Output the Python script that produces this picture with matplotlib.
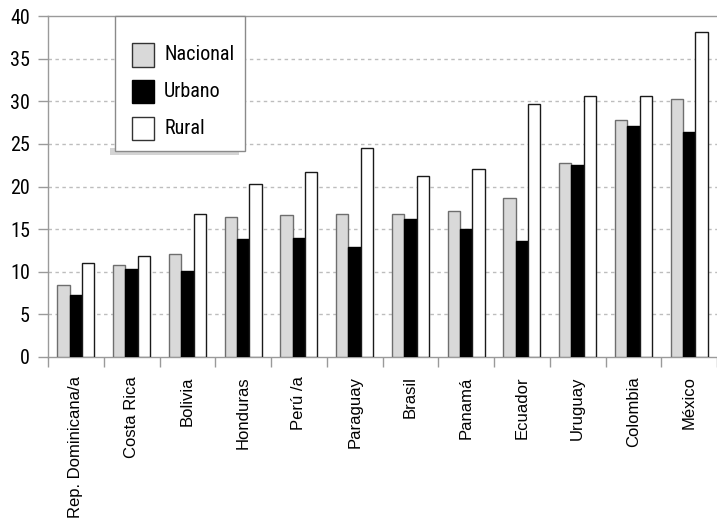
import matplotlib
matplotlib.use("Agg")
import matplotlib.pyplot as plt
from matplotlib.patches import Rectangle
import numpy as np

# Data
paises = ["Rep. Dominicana/a", "Costa Rica", "Bolivia", "Honduras", "Perú /a",
          "Paraguay", "Brasil", "Panamá", "Ecuador", "Uruguay", "Colombia", "México"]
nacional = [8.4, 10.8, 12.1, 16.4, 16.6, 16.8, 16.8, 17.1, 18.7, 22.7, 27.8, 30.3]
urbano = [7.3, 10.3, 10.1, 13.8, 14.0, 12.9, 16.2, 15.0, 13.6, 22.5, 27.1, 26.4]
rural = [11.0, 11.9, 16.8, 20.3, 21.7, 24.5, 21.2, 22.0, 29.7, 30.6, 30.6, 38.1]
y_ticks = [0, 5, 10, 15, 20, 25, 30, 35, 40]
series_names = ["Nacional", "Urbano", "Rural"]

NARROW = ["Roboto Condensed", "Liberation Sans", "DejaVu Sans"]
REGULAR = ["Liberation Sans", "DejaVu Sans"]

W, H = 717, 525
fig = plt.figure(figsize=(W / 100, H / 100), dpi=100)
ax = fig.add_axes([48 / W, 1 - 357 / H, 669 / W, 341 / H])

x = np.arange(len(paises))
bw = 0.22
face = ["#d9d9d9", "#000000", "#ffffff"]
edge = ["#6e6e6e", "#000000", "#1a1a1a"]
for i, vals in enumerate([nacional, urbano, rural]):
    ax.bar(x + (i - 1) * bw, vals, width=bw, color=face[i], edgecolor=edge[i],
           linewidth=1.0, zorder=3, label=series_names[i])

ax.set_xlim(-0.5, -0.5 + 669 / 56.8)
ax.set_ylim(0, 40)

# grid
for v in y_ticks[1:-1]:
    ax.axhline(v, color="#bdbdbd", linewidth=1.0, linestyle=(0, (2.5, 2.5)), zorder=1)

# spines
for s in ["left", "bottom", "top"]:
    ax.spines[s].set_color("#9a9a9a")
    ax.spines[s].set_linewidth(1.0)
ax.spines["right"].set_visible(False)

# y axis
ax.set_yticks(y_ticks)
ax.set_yticklabels([str(v) for v in y_ticks])
ax.tick_params(axis="y", direction="out", length=7, width=1, color="#9a9a9a",
               pad=6, labelsize=14.5)
for lab in ax.get_yticklabels():
    lab.set_family(NARROW)

# x axis: ticks at category boundaries, labels at centers
ax.set_xticks(np.arange(-0.5, len(paises), 1.0))
ax.set_xticklabels([])
ax.tick_params(axis="x", which="major", direction="out", length=7.5, width=1,
               color="#9a9a9a")
ax.set_xticks(x, minor=True)
ax.set_xticklabels(paises, minor=True, rotation=90, fontsize=12,
                   family=REGULAR, va="top", ha="center")
ax.tick_params(axis="x", which="minor", length=0, pad=14)


def fx(px):
    return px / W


def fy(py):
    return 1 - py / H


# legend box with shadow
fig.patches.append(Rectangle((fx(110), fy(155)), fx(239) - fx(110), fy(148) - fy(155),
                             transform=fig.transFigure, facecolor="#d4d4d4",
                             edgecolor="none", zorder=5))
fig.patches.append(Rectangle((fx(115), fy(151)), fx(245) - fx(115), fy(16) - fy(151),
                             transform=fig.transFigure, facecolor="white",
                             edgecolor="#8a8a8a", linewidth=1.0, zorder=6))
rows = [(43.5, 66.5), (80, 103), (116.5, 139.5)]
for (t, b), name, fc, ec in zip(rows, series_names, face, edge):
    fig.patches.append(Rectangle((fx(132), fy(b)), fx(154) - fx(132), fy(t) - fy(b),
                                 transform=fig.transFigure, facecolor=fc,
                                 edgecolor="#333333" if fc != "#000000" else "#000000",
                                 linewidth=1.0, zorder=7))
    fig.text(fx(164), fy((t + b) / 2), name, fontsize=14.5, family=NARROW,
             va="center", ha="left", zorder=8)

fig.savefig("out.png", dpi=100)
